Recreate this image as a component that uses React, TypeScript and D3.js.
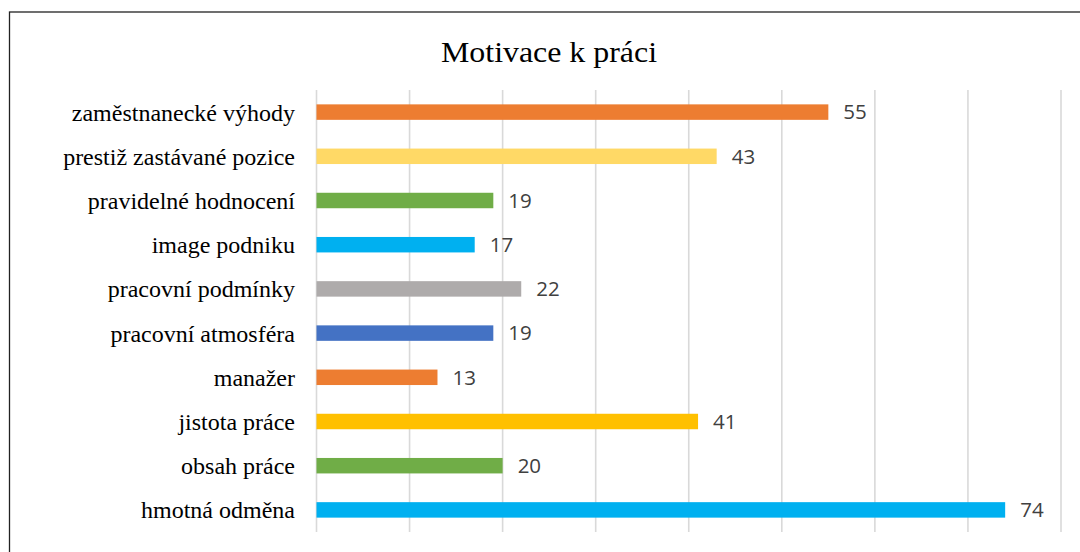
import React from "react";
import * as d3 from "d3";

const categories = [
  "zaměstnanecké výhody",
  "prestiž zastávané pozice",
  "pravidelné hodnocení",
  "image podniku",
  "pracovní podmínky",
  "pracovní atmosféra",
  "manažer",
  "jistota práce",
  "obsah práce",
  "hmotná odměna",
];
const values = [55, 43, 19, 17, 22, 19, 13, 41, 20, 74];
const colors = [
  "#ED7D31",
  "#FFD966",
  "#70AD47",
  "#00B0F0",
  "#AEABAB",
  "#4472C4",
  "#ED7D31",
  "#FFC000",
  "#70AD47",
  "#00B0F0",
];
const ticks = [0, 10, 20, 30, 40, 50, 60, 70, 80];
const title = "Motivace k práci";

export default function App() {
  const W = 1080;
  const H = 552;
  const x = d3.scaleLinear().domain([0, 80]).range([316.5, 1061]);
  const y = d3
    .scaleBand<string>()
    .domain(categories)
    .range([90, 532])
    .paddingInner(0.65)
    .paddingOuter(0.325);
  const bw = y.bandwidth();
  return (
    <svg
      width={W}
      height={H}
      style={{ position: "absolute", left: 0, top: 0, background: "#fff" }}
    >
      <rect x={0} y={0} width={W} height={H} fill="#fff" />
      <rect
        x={9.5}
        y={12}
        width={W + 20}
        height={H + 20}
        fill="none"
        stroke="#222"
        strokeWidth={1.3}
      />
      <text
        x={549}
        y={62}
        textAnchor="middle"
        fontFamily="'Liberation Serif', 'Times New Roman', serif"
        fontSize={29}
        textLength={216}
        lengthAdjust="spacingAndGlyphs"
        fill="#000"
      >
        {title}
      </text>
      {ticks.map((t) => (
        <line
          key={t}
          x1={x(t)}
          x2={x(t)}
          y1={90}
          y2={532}
          stroke="#D9D9D9"
          strokeWidth={1.6}
        />
      ))}
      {categories.map((c, i) => {
        const yc = (y(c) as number) + bw / 2;
        return (
          <g key={c}>
            <rect
              x={x(0)}
              y={y(c)}
              width={x(values[i]) - x(0)}
              height={bw}
              fill={colors[i]}
            />
            <text
              x={295}
              y={yc}
              dy="0.35em"
              textAnchor="end"
              fontFamily="'Liberation Serif', 'Times New Roman', serif"
              fontSize={24}
              fill="#000"
            >
              {c}
            </text>
            <text
              x={x(values[i]) + 15}
              y={yc}
              dy="0.36em"
              textAnchor="start"
              fontFamily="'Open Sans', sans-serif"
              fontSize={20.5}
              fill="#404040"
            >
              {values[i]}
            </text>
          </g>
        );
      })}
    </svg>
  );
}
